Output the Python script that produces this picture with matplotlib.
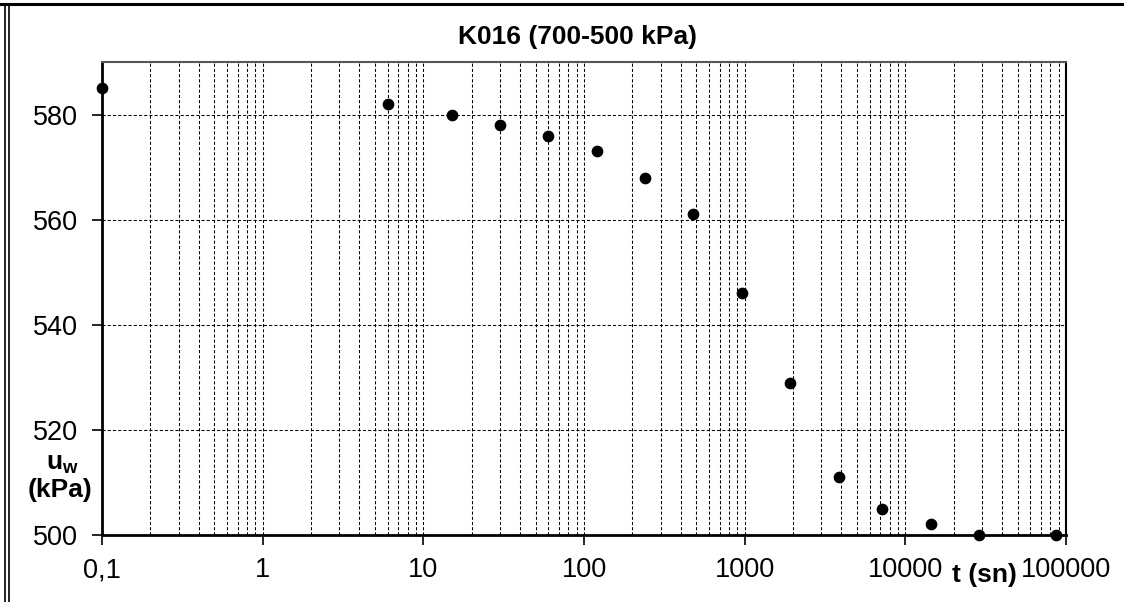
import matplotlib
matplotlib.use("Agg")
import matplotlib.pyplot as plt
import numpy as np
from matplotlib.lines import Line2D
from matplotlib.ticker import FixedLocator, FuncFormatter, LogLocator, NullFormatter

plt.rcParams['font.family'] = ['Liberation Sans', 'DejaVu Sans']

# time (s) and pore water pressure (kPa)
t_sn = [0.1, 6, 15, 30, 60, 120, 240, 480, 960, 1920, 3840, 7200, 14400, 28800, 86400]
u_w = [585, 582, 580, 578, 576, 573, 568, 561, 546, 529, 511, 505, 502, 500, 500]

x_ticks = [0.1, 1, 10, 100, 1000, 10000, 100000]
y_ticks = [500, 520, 540, 560, 580]
title = 'K016 (700-500 kPa)'

fig = plt.figure(figsize=(11.24, 6.02), dpi=100)
ax = fig.add_axes([102 / 1124, 1 - 535 / 602, 964 / 1124, 473 / 602])

ax.scatter(t_sn, u_w, s=55, color='black', zorder=5, clip_on=False)

ax.set_xscale('log')
ax.set_xlim(0.1, 100000)
ax.set_ylim(500, 590)

ax.xaxis.set_major_locator(FixedLocator(x_ticks))
ax.xaxis.set_minor_locator(LogLocator(base=10, subs=np.arange(2, 10)))
ax.xaxis.set_minor_formatter(NullFormatter())
ax.xaxis.set_major_formatter(FuncFormatter(lambda v, p: ('%g' % v).replace('.', ',') if v < 1 else '%d' % v))
ax.yaxis.set_major_locator(FixedLocator(y_ticks))

dash = (0, (3, 2))
ax.grid(True, which='major', axis='both', color='black', lw=0.75, linestyle=dash)
ax.grid(True, which='minor', axis='x', color='black', lw=0.75, linestyle=dash)

ax.tick_params(axis='both', which='major', direction='out', length=7, width=1.2,
               labelsize=19.5, pad=10, colors='black')
ax.tick_params(axis='x', which='major', pad=9)
ax.tick_params(axis='x', which='minor', length=0)

ax.spines['left'].set_linewidth(2)
ax.spines['bottom'].set_linewidth(2)
ax.spines['top'].set_linewidth(1.5)
ax.spines['top'].set_color('#555555')
ax.spines['right'].set_linewidth(1.5)

fig.text(578 / 1124, 1 - 37 / 602, title, ha='center', va='center',
         fontsize=19, fontweight='bold')
fig.text(62 / 1124, 1 - 464 / 602, r'u$_\mathregular{w}$', ha='center', va='center',
         fontsize=19, fontweight='bold')
fig.text(60 / 1124, 1 - 490 / 602, '(kPa)', ha='center', va='center',
         fontsize=19, fontweight='bold')
fig.text(984 / 1124, 1 - 575 / 602, 't (sn)', ha='center', va='center',
         fontsize=19, fontweight='bold')

# outer chart frame
fig.add_artist(Line2D([0, 1], [1 - 4 / 602, 1 - 4 / 602], color='black', lw=2.2,
                      transform=fig.transFigure))
fig.add_artist(Line2D([5 / 1124, 5 / 1124], [0, 1 - 4 / 602], color='black', lw=1.2,
                      transform=fig.transFigure))
fig.add_artist(Line2D([9 / 1124, 9 / 1124], [0, 1 - 4 / 602], color='black', lw=1.2,
                      transform=fig.transFigure))

fig.savefig('out.png', dpi=100)
